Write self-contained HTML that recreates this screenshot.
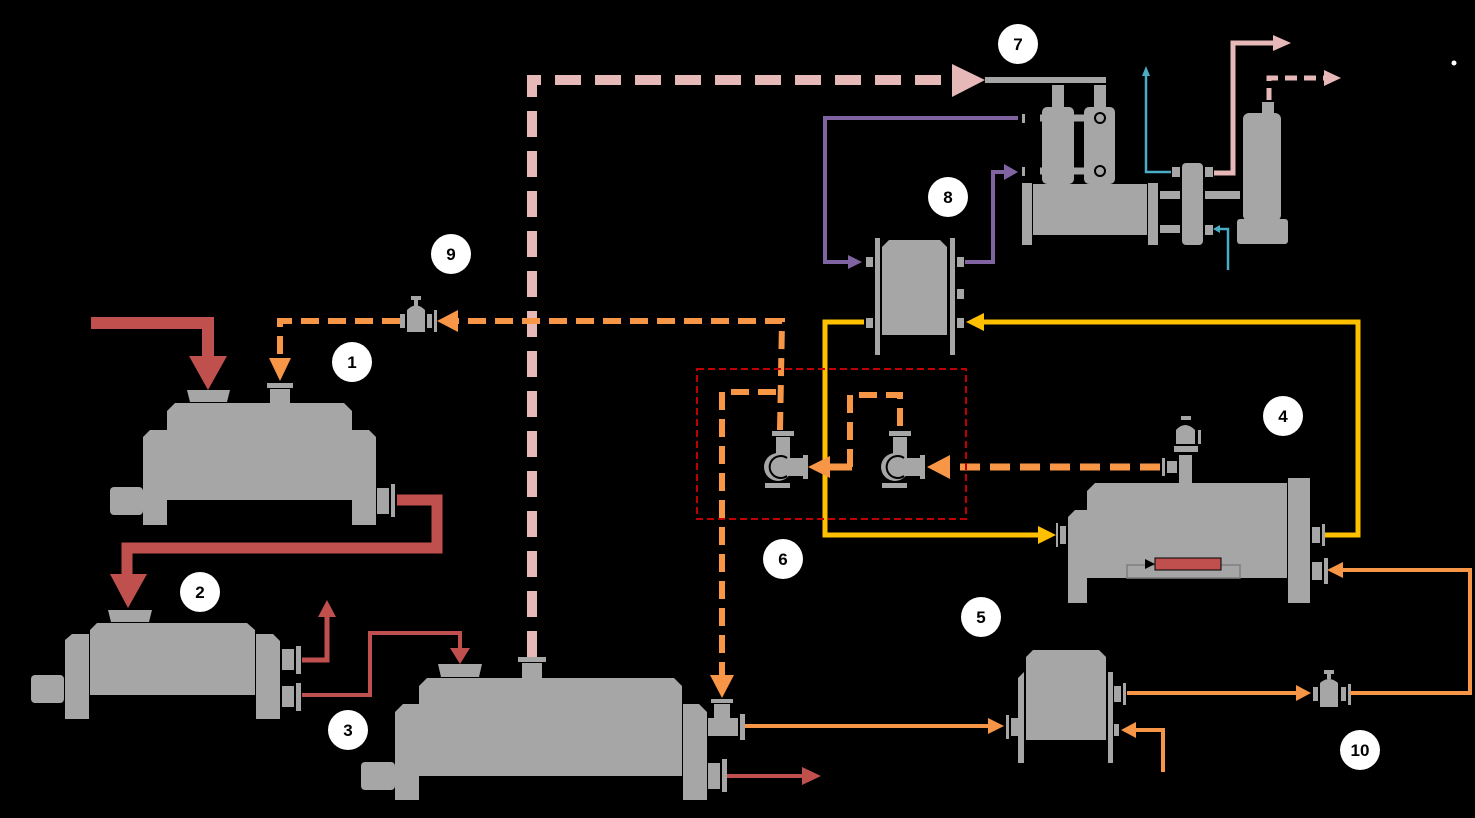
<!DOCTYPE html>
<html><head><meta charset="utf-8"><style>
html,body{margin:0;padding:0;background:#000;}
svg{display:block}
text{font-family:"Liberation Sans",sans-serif;font-weight:bold;font-size:17px;text-anchor:middle;fill:#000}
</style></head><body>
<svg width="1475" height="818" viewBox="0 0 1475 818" xmlns="http://www.w3.org/2000/svg">
<rect width="1475" height="818" fill="#000"/>
<g fill="#a6a6a6">
<!-- machine 1 -->
<path d="M167,411 L175,403 L344,403 L352,411 L352,500 L167,500Z"/>
<path d="M143,437 L150,430 L167,430 L167,525 L143,525Z"/>
<path d="M352,430 L369,430 L376,437 L376,525 L352,525Z"/>
<rect x="110" y="487" width="33" height="28" rx="4"/>
<rect x="377" y="488" width="12" height="26"/><rect x="391" y="484" width="4" height="33"/>
<path d="M187,390 L230,390 L227,402 L190,402Z"/>
<rect x="270" y="389" width="20" height="14"/><rect x="267" y="383" width="26" height="5"/>
<!-- machine 2 -->
<path d="M90,630 L97,623 L247,623 L255,630 L255,695 L90,695Z"/>
<path d="M65,640 L72,634 L89,634 L89,719 L65,719Z"/>
<path d="M256,634 L273,634 L280,641 L280,719 L256,719Z"/>
<rect x="31" y="675" width="33" height="28" rx="4"/>
<rect x="282" y="649" width="12" height="21"/><rect x="296" y="646" width="5" height="28"/>
<rect x="282" y="686" width="12" height="21"/><rect x="296" y="683" width="5" height="28"/>
<path d="M108,610 L152,610 L149,622 L111,622Z"/>
<!-- machine 3 -->
<path d="M419,686 L427,678 L674,678 L682,686 L682,776 L419,776Z"/>
<path d="M395,712 L403,704 L419,704 L419,800 L395,800Z"/>
<path d="M683,704 L699,704 L707,712 L707,800 L683,800Z"/>
<rect x="361" y="762" width="34" height="28" rx="4"/>
<path d="M438,664 L482,664 L479,677 L441,677Z"/>
<rect x="522" y="663" width="20" height="15"/><rect x="518" y="657" width="28" height="5"/>
<rect x="708" y="718" width="30" height="18"/><rect x="740" y="714" width="5" height="26"/>
<rect x="714" y="704" width="16" height="14"/><rect x="711" y="699" width="22" height="4"/>
<rect x="708" y="763" width="12" height="26"/><rect x="722" y="759" width="5" height="33"/>
<!-- machine 5 -->
<path d="M1026,657 L1033,650 L1099,650 L1106,657 L1106,740 L1026,740Z"/>
<path d="M1018,678 L1024,672 L1024,763 L1018,763Z"/>
<rect x="1108" y="672" width="5" height="91"/>
<rect x="1011" y="718" width="7" height="18"/><rect x="1006" y="715" width="3" height="24"/>
<rect x="1114" y="686" width="7" height="16"/><rect x="1123" y="683" width="3" height="22"/>
<rect x="1114" y="724" width="5" height="12"/>
<!-- machine 4 -->
<path d="M1087,491 L1095,483 L1287,483 L1287,578 L1087,578Z"/>
<path d="M1068,517 L1075,510 L1087,510 L1087,603 L1068,603Z"/>
<rect x="1288" y="478" width="22" height="125"/>
<rect x="1312" y="527" width="8" height="16"/><rect x="1322" y="524" width="3" height="22"/>
<rect x="1312" y="562" width="10" height="18"/><rect x="1324" y="558" width="4" height="26"/>
<rect x="1060" y="526" width="6" height="18"/><rect x="1056" y="523" width="2" height="24"/>
<rect x="1179" y="455" width="13" height="28"/><rect x="1174" y="446" width="24" height="6"/>
<path d="M1176,430 Q1185,420 1195,430 L1195,444 L1176,444Z"/><rect x="1181" y="416" width="10" height="4"/>
<rect x="1198" y="430" width="3" height="14"/>
<rect x="1167" y="461" width="10" height="12"/><rect x="1162" y="458" width="3" height="18"/>
<!-- valve 9 -->
<path d="M407,310 Q416,301 425,310 L425,332 L407,332Z"/><rect x="411" y="296" width="10" height="4"/><rect x="414" y="300" width="4" height="6"/>
<rect x="400" y="314" width="5" height="14"/><rect x="427" y="314" width="5" height="14"/><rect x="434" y="310" width="3" height="22"/>
<!-- valve 10 -->
<path d="M1320,683 Q1329,675 1338,683 L1338,707 L1320,707Z"/><rect x="1324" y="670" width="10" height="4"/><rect x="1327" y="674" width="4" height="5"/>
<rect x="1313" y="687" width="5" height="14"/><rect x="1341" y="687" width="5" height="14"/><rect x="1348" y="684" width="3" height="21"/>
<!-- hx 8 -->
<path d="M882,247 L889,240 L940,240 L947,247 L947,335 L882,335Z"/>
<rect x="875" y="238" width="5" height="117"/><rect x="950" y="238" width="5" height="117"/>
<rect x="866" y="257" width="7" height="10"/><rect x="957" y="257" width="7" height="10"/>
<rect x="866" y="318" width="7" height="10"/><rect x="957" y="318" width="7" height="10"/>
<rect x="957" y="289" width="7" height="10"/>
<!-- machine 7 -->
<rect x="985" y="77" width="121" height="6"/>
<rect x="1042" y="107" width="32" height="77" rx="5"/><rect x="1084" y="107" width="31" height="77" rx="5"/>
<rect x="1052" y="85" width="12" height="22"/><rect x="1094" y="85" width="12" height="22"/>
<rect x="1033" y="184" width="114" height="51"/>
<rect x="1022" y="183" width="10" height="62"/><rect x="1148" y="183" width="10" height="62"/>
<rect x="1182" y="163" width="21" height="82" rx="4"/>
<rect x="1160" y="191" width="20" height="8"/><rect x="1160" y="225" width="20" height="8"/>
<rect x="1205" y="191" width="35" height="8"/>
<rect x="1172" y="167" width="8" height="10"/><rect x="1205" y="167" width="8" height="10"/>
<rect x="1205" y="225" width="8" height="10"/>
<rect x="1243" y="113" width="38" height="108" rx="6"/>
<rect x="1237" y="219" width="51" height="25" rx="3"/>
<rect x="1262" y="102" width="12" height="11"/>
<!-- pumps -->
<rect x="776" y="437" width="14" height="22"/><rect x="772" y="431" width="22" height="5"/>
<circle cx="778" cy="467" r="14"/><rect x="778" y="458" width="25" height="18"/><rect x="803" y="455" width="5" height="24"/>
<rect x="765" y="483" width="25" height="5"/>
<rect x="893" y="437" width="14" height="22"/><rect x="889" y="431" width="22" height="5"/>
<circle cx="895" cy="467" r="14"/><rect x="895" y="458" width="25" height="18"/><rect x="920" y="455" width="5" height="24"/>
<rect x="882" y="483" width="25" height="5"/>
</g>
<g fill="none" stroke="#000" stroke-width="2">
<path d="M787,458 A11,11 0 1 0 787,476"/><path d="M904,458 A11,11 0 1 0 904,476"/>
<line x1="1040" y1="118" x2="1103" y2="118" stroke="#a6a6a6" stroke-width="7"/>
<line x1="1040" y1="171" x2="1103" y2="171" stroke="#a6a6a6" stroke-width="7"/>
<circle cx="1100" cy="118" r="5"/><circle cx="1100" cy="171" r="5"/>
</g>
<rect x="1022" y="114" width="3" height="9" fill="#a6a6a6"/><rect x="1022" y="167" width="3" height="9" fill="#a6a6a6"/>
<rect x="1127" y="565" width="113" height="13" fill="none" stroke="#7f7f7f" stroke-width="1.5"/>
<rect x="1155" y="558" width="66" height="12" fill="#c0504d" stroke="#000"/>
<path d="M1145,559 L1155,564 L1145,569Z" fill="#000"/>

<!-- red lines -->
<g fill="none" stroke="#c0504d">
<path d="M91,323 L208,323 L208,360" stroke-width="12"/>
<path d="M397,500 L437,500 L437,548 L127,548 L127,580" stroke-width="11"/>
<path d="M302,660 L327,660 L327,612" stroke-width="5"/>
<path d="M302,695 L370,695 L370,633 L460,633 L460,650" stroke-width="4"/>
<path d="M727,776 L803,776" stroke-width="4"/>
</g>
<g fill="#c0504d">
<path d="M189,356 L227,356 L208,390Z"/><path d="M110,574 L147,574 L128,608Z"/>
<path d="M318,617 L336,617 L327,600Z"/><path d="M450,648 L470,648 L460,664Z"/>
<path d="M802,767 L821,776 L802,785Z"/>
</g>
<!-- pink -->
<g fill="none" stroke="#e6b9b8">
<path d="M532,657 L532,80 L955,80" stroke-width="10" stroke-dasharray="26,14"/>
<path d="M1214,173 L1233,173 L1233,43 L1275,43" stroke-width="5"/>
<path d="M1269,100 L1269,78 L1325,78" stroke-width="5" stroke-dasharray="12,7"/>
</g>
<g fill="#e6b9b8"><path d="M952,64 L985,80 L952,97Z"/><path d="M1273,35 L1291,43 L1273,51Z"/><path d="M1324,70 L1341,78 L1324,86Z"/></g>
<!-- blue -->
<g fill="none" stroke="#4bacc6" stroke-width="2.5"><path d="M1171,172 L1146,172 L1146,72"/><path d="M1228,270 L1228,229 L1218,229"/></g>
<g fill="#4bacc6"><path d="M1142,76 L1150,76 L1146,66Z"/><path d="M1220,225 L1220,233 L1213,229Z"/></g>
<!-- purple -->
<g fill="none" stroke="#8064a2" stroke-width="4"><path d="M1018,118 L825,118 L825,262 L850,262"/><path d="M965,262 L993,262 L993,172 L1006,172"/></g>
<g fill="#8064a2"><path d="M848,255 L862,262 L848,269Z"/><path d="M1004,164 L1018,172 L1004,180Z"/></g>
<!-- yellow -->
<g fill="none" stroke="#ffc000" stroke-width="5"><path d="M1325,535 L1358,535 L1358,322 L980,322"/><path d="M864,322 L825,322 L825,535 L1040,535"/></g>
<g fill="#ffc000"><path d="M984,313 L966,322 L984,331Z"/><path d="M1038,526 L1056,535 L1038,544Z"/></g>
<!-- orange -->
<g fill="none" stroke="#f79646">
<path d="M400,321 L280,321 L280,360" stroke-width="6" stroke-dasharray="18,9"/>
<path d="M780,430 L782,321 L455,321" stroke-width="6" stroke-dasharray="18,9"/>
<path d="M722,680 L722,392 L782,392" stroke-width="6" stroke-dasharray="18,9"/>
<path d="M850,467 L850,395 L900,395 L900,431" stroke-width="6" stroke-dasharray="18,9"/>
<path d="M1160,467 L950,467" stroke-width="7" stroke-dasharray="20,10"/>
<path d="M830,467 L852,467" stroke-width="7"/>
<path d="M745,726 L990,726" stroke-width="4"/>
<path d="M1127,693 L1300,693" stroke-width="4"/>
<path d="M1350,693 L1470,693 L1470,570 L1340,570" stroke-width="4"/>
<path d="M1163,772 L1163,730 L1133,730" stroke-width="4"/>
</g>
<g fill="#f79646">
<path d="M269,358 L291,358 L280,381Z"/><path d="M458,310 L437,321 L458,332Z"/>
<path d="M710,675 L734,675 L722,698Z"/>
<path d="M830,456 L808,467 L830,478Z"/><path d="M950,455 L927,467 L950,479Z"/>
<path d="M988,718 L1004,726 L988,734Z"/><path d="M1296,685 L1311,693 L1296,701Z"/>
<path d="M1343,562 L1327,570 L1343,578Z"/><path d="M1136,722 L1121,730 L1136,738Z"/>
</g>
<!-- red dashed box -->
<rect x="697" y="369" width="269" height="150" fill="none" stroke="#c00000" stroke-width="2" stroke-dasharray="7,4"/>
<!-- labels -->
<g fill="#fff">
<circle cx="1018" cy="44" r="20"/><circle cx="948" cy="197" r="20"/><circle cx="451" cy="254" r="20"/>
<circle cx="352" cy="362" r="20"/><circle cx="1283" cy="416" r="20"/><circle cx="783" cy="559" r="20"/>
<circle cx="981" cy="617" r="20"/><circle cx="200" cy="592" r="20"/><circle cx="348" cy="730" r="20"/>
<circle cx="1360" cy="750" r="20"/><circle cx="1454" cy="63" r="2.5"/>
</g>
<text x="1018" y="50">7</text><text x="948" y="203">8</text><text x="451" y="260">9</text>
<text x="352" y="368">1</text><text x="1283" y="422">4</text><text x="783" y="565">6</text>
<text x="981" y="623">5</text><text x="200" y="598">2</text><text x="348" y="736">3</text>
<text x="1360" y="756">10</text>
</svg>
</body></html>
